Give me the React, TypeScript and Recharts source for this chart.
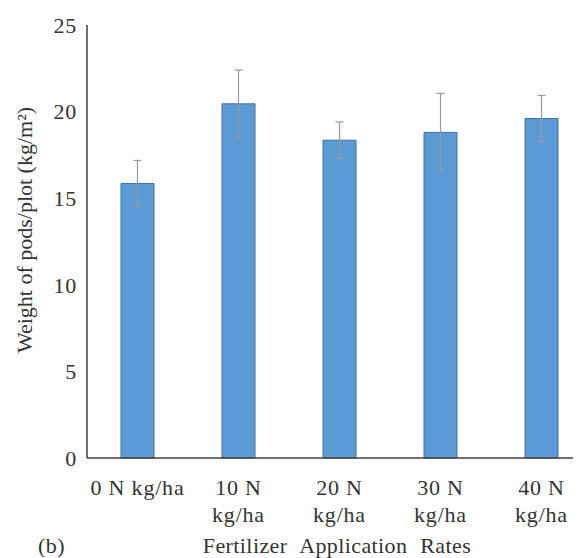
import React from "react";
import { BarChart, Bar, XAxis, YAxis, ErrorBar, Label } from "recharts";

// Fertilizer rates (category labels, split into display lines)
const rates = ["0 N kg/ha", "10 N kg/ha", "20 N kg/ha", "30 N kg/ha", "40 N kg/ha"];
const rateLines = [["0 N kg/ha"], ["10 N", "kg/ha"], ["20 N", "kg/ha"], ["30 N", "kg/ha"], ["40 N", "kg/ha"]];

// Mean weight of pods per plot (kg/m²) and standard error
const podWeight = [15.85, 20.45, 18.35, 18.8, 19.6];
const podError = [1.33, 1.95, 1.05, 2.25, 1.33];

const yTicks = [0, 5, 10, 15, 20, 25];

const data = rates.map((rate, i) => ({
  rate,
  weight: podWeight[i],
  err: podError[i],
}));

const FONT = "'Liberation Serif', 'Times New Roman', serif";
const TEXT = "#333333";

const RateTick = (props: any) => {
  const { x, y, index } = props;
  const lines = rateLines[index] || [];
  return (
    <text
      x={x}
      y={y + 29}
      textAnchor="middle"
      fontFamily={FONT}
      fontSize={22}
      letterSpacing={0.8}
      fill={TEXT}
    >
      {lines.map((line, i) => (
        <tspan key={i} x={x} dy={i === 0 ? 0 : 27}>
          {line}
        </tspan>
      ))}
    </text>
  );
};

export default function App() {
  return (
    <div style={{ width: 573, height: 550, overflow: "hidden" }}>
      <BarChart
        width={600}
        height={550}
        data={data}
        margin={{ top: 17, right: 16, left: 0, bottom: 0 }}
      >
        <XAxis
          dataKey="rate"
          height={100}
          tick={<RateTick />}
          tickLine={false}
          axisLine={{ stroke: "#404040", strokeWidth: 1.5 }}
          interval={0}
        >
          <Label
            content={() => (
              <g fontFamily={FONT} fontSize={22} fill={TEXT}>
                <text x={30} y={545} letterSpacing={0.5}>(b)</text>
                <text
                  x={329}
                  y={545}
                  textAnchor="middle"
                  letterSpacing={0.4}
                  wordSpacing={7}
                >
                  Fertilizer Application Rates
                </text>
              </g>
            )}
          />
        </XAxis>
        <YAxis
          width={79}
          domain={[0, 25]}
          ticks={yTicks}
          tickLine={false}
          tickMargin={4}
          axisLine={{ stroke: "#404040", strokeWidth: 1.5 }}
          tick={{ fontFamily: FONT, fontSize: 22, fill: TEXT, letterSpacing: 0.8 }}
          interval={0}
        >
          <Label
            content={() => (
              <text
                x={24}
                y={222}
                transform="rotate(-90, 24, 222)"
                textAnchor="middle"
                fontFamily={FONT}
                fontSize={22}
                fill={TEXT}
              >
                Weight of pods/plot (kg/m²)
              </text>
            )}
          />
        </YAxis>
        <Bar
          dataKey="weight"
          fill="#5B9BD5"
          stroke="#41719C"
          strokeWidth={1}
          barSize={33}
          isAnimationActive={false}
        >
          <ErrorBar dataKey="err" width={4} stroke="#9a9a9a" strokeWidth={1.2} />
        </Bar>
      </BarChart>
    </div>
  );
}
